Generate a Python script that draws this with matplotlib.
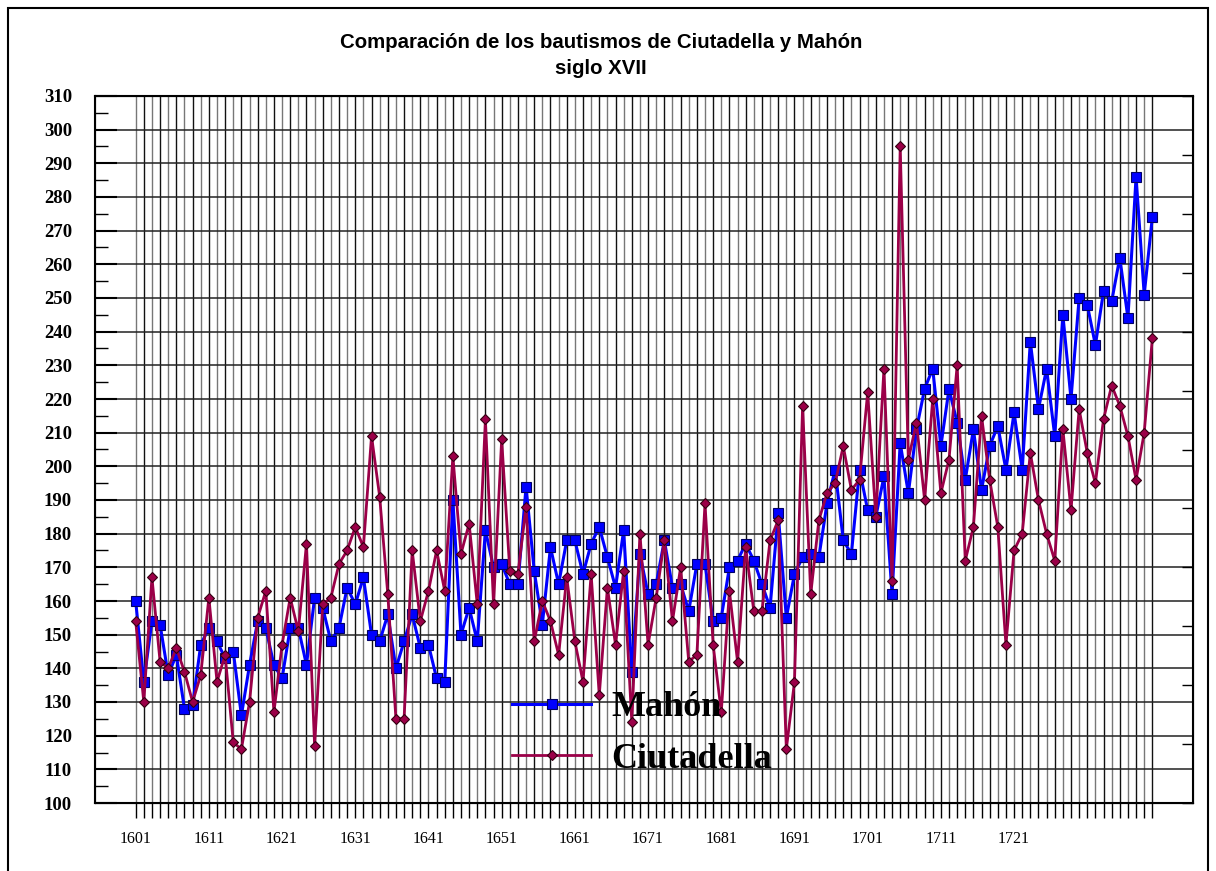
import numpy as np
import matplotlib
matplotlib.use('Agg')
import matplotlib.pyplot as plt
from matplotlib.patches import Rectangle

# baptisms per year
mahon = [160, 136, 154, 153, 138, 144, 128, 129, 147, 152,
         148, 143, 145, 126, 141, 154, 152, 141, 137, 152,
         152, 141, 161, 158, 148, 152, 164, 159, 167, 150,
         148, 156, 140, 148, 156, 146, 147, 137, 136, 190,
         150, 158, 148, 181, 170, 171, 165, 165, 194, 169,
         153, 176, 165, 178, 178, 168, 177, 182, 173, 164,
         181, 139, 174, 162, 165, 178, 164, 165, 157, 171,
         171, 154, 155, 170, 172, 177, 172, 165, 158, 186,
         155, 168, 173, 174, 173, 189, 199, 178, 174, 199,
         187, 185, 197, 162, 207, 192, 211, 223, 229, 206,
         223, 213, 196, 211, 193, 206, 212, 199, 216, 199,
         237, 217, 229, 209, 245, 220, 250, 248, 236, 252,
         249, 262, 244, 286, 251, 274]

ciutadella = [154, 130, 167, 142, 140, 146, 139, 130, 138, 161,
              136, 144, 118, 116, 130, 155, 163, 127, 147, 161,
              151, 177, 117, 159, 161, 171, 175, 182, 176, 209,
              191, 162, 125, 125, 175, 154, 163, 175, 163, 203,
              174, 183, 159, 214, 159, 208, 169, 168, 188, 148,
              160, 154, 144, 167, 148, 136, 168, 132, 164, 147,
              169, 124, 180, 147, 161, 178, 154, 170, 142, 144,
              189, 147, 127, 163, 142, 176, 157, 157, 178, 184,
              116, 136, 218, 162, 184, 192, 195, 206, 193, 196,
              222, 185, 229, 166, 295, 202, 213, 190, 220, 192,
              202, 230, 172, 182, 215, 196, 182, 147, 175, 180,
              204, 190, 180, 172, 211, 187, 217, 204, 195, 214,
              224, 218, 209, 196, 210, 238]

year_labels = ['1601', '1611', '1621', '1631', '1641', '1651', '1661',
               '1671', '1681', '1691', '1701', '1711', '1721']
label_step = 9

x = np.arange(len(mahon))

fig = plt.figure(figsize=(12.16, 8.71), dpi=100)
ax = fig.add_axes([95/1216, 68/871, 1098/1216, 707/871])

# outer frame of the chart area
fig.patches.append(Rectangle((8/1216, -0.02), 1200/1216, 1 - 8/871 + 0.02,
                             transform=fig.transFigure, fill=False,
                             edgecolor='black', linewidth=1.5))

# grid: a line per year (alternating dark/grey like the original), a line per 10
for xi in x:
    ax.axvline(xi, color='#111111' if xi % 2 else '#777777', linewidth=1.0, zorder=1)
for yv in range(100, 311, 10):
    ax.axhline(yv, color='#222222', linewidth=1.1, zorder=1)

ax.plot(x, mahon, color='#0000ff', linewidth=2.2, marker='s', markersize=6.5,
        markerfacecolor='#0000ff', markeredgecolor='#000066',
        markeredgewidth=0.8, label='Mahón', zorder=3)
ax.plot(x, ciutadella, color='#9b0048', linewidth=2.0, marker='D',
        markersize=5, markerfacecolor='#9b0048', markeredgecolor='#330011',
        markeredgewidth=0.8, label='Ciutadella', zorder=4)

ax.set_xlim(-5, 130)
ax.set_ylim(100, 310)

ax.set_xticks(x)
ax.set_xticklabels([year_labels[i // label_step] if i % label_step == 0 and i // label_step < len(year_labels) else ''
                    for i in x], fontfamily='Liberation Serif', fontsize=11.5)
ax.tick_params(axis='x', direction='out', length=11, width=1, pad=9)

ax.set_yticks(range(100, 311, 10))
ax.set_yticks(range(105, 310, 10), minor=True)
ax.set_yticklabels([str(v) for v in range(100, 311, 10)],
                   fontfamily='Liberation Serif', fontweight='bold', fontsize=13.5)
ax.tick_params(axis='y', which='major', direction='in', length=16, width=1.5, pad=16.5)
ax.tick_params(axis='y', which='minor', direction='in', length=9, width=1)
for s in ax.spines.values():
    s.set_linewidth(1.5)

# right-hand ticks
ax2 = ax.twinx()
ax2.set_ylim(0, 12)
ax2.set_yticks(range(13))
ax2.set_yticklabels([])
ax2.tick_params(axis='y', direction='in', length=8, width=1)

leg = ax.legend(loc='upper left', bbox_to_anchor=(512/1216, 1 - 691/871),
                bbox_transform=fig.transFigure, frameon=False,
                prop={'family': 'Liberation Serif', 'weight': 'bold', 'size': 26},
                handlelength=2.2, handletextpad=0.55, labelspacing=0.5,
                borderpad=0, borderaxespad=0)

fig.text(0.494, 1 - 43/871, 'Comparación de los bautismos de Ciutadella y Mahón',
         ha='center', va='center', family='Liberation Sans',
         fontweight='bold', fontsize=14.7)
fig.text(0.494, 1 - 68/871, 'siglo XVII', ha='center', va='center',
         family='Liberation Sans', fontweight='bold', fontsize=14.7)

fig.savefig('out.png', dpi=100)
